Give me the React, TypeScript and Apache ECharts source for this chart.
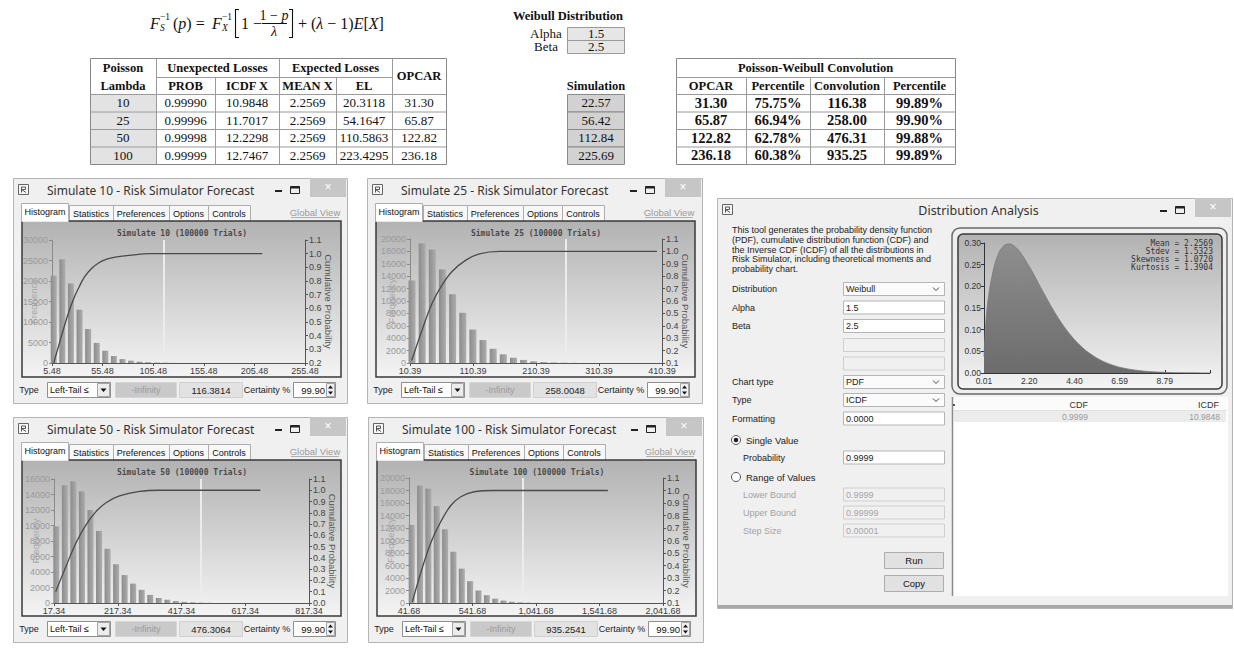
import React, { useEffect, useRef } from "react";
import * as echarts from "echarts";

// ---------------- Data ----------------
const lambdas = ["10", "25", "50", "100"];
const probabilities = ["0.99990", "0.99996", "0.99998", "0.99999"];
const icdfX = ["10.9848", "11.7017", "12.2298", "12.7467"];
const meanX = ["2.2569", "2.2569", "2.2569", "2.2569"];
const expectedLosses = ["20.3118", "54.1647", "110.5863", "223.4295"];
const opcar = ["31.30", "65.87", "122.82", "236.18"];
const simulation = ["22.57", "56.42", "112.84", "225.69"];
const opcarPercentile = ["75.75%", "66.94%", "62.78%", "60.38%"];
const convolution = ["116.38", "258.00", "476.31", "935.25"];
const convPercentile = ["99.89%", "99.90%", "99.88%", "99.89%"];
const weibullParams = ["1.5", "2.5"];

const sim10Counts = [21300, 25300, 19400, 13000, 8300, 4900, 3000, 1700, 950, 560, 330, 190, 110, 60, 35, 20, 12, 8];
const sim25Counts = [13300, 19300, 18300, 15100, 11100, 8100, 5400, 3700, 2300, 1400, 850, 500, 270, 150, 80, 40, 20, 10];
const sim50Counts = [9900, 15200, 15700, 14400, 12000, 9300, 7000, 5000, 3600, 2500, 1700, 1050, 650, 420, 250, 150, 80, 40, 20];
const sim100Counts = [12500, 18800, 18300, 15500, 11800, 8200, 5500, 3500, 2000, 1250, 700, 380, 200, 100, 50, 25];

const sim10Cdf = [[7.2, 0.2], [12.2, 0.33], [17.3, 0.46], [22.4, 0.58], [27.4, 0.68], [32.5, 0.76], [37.6, 0.83], [44.3, 0.89], [51.1, 0.93], [59.5, 0.96], [68, 0.975], [84.9, 0.99], [101.8, 1.0], [213.3, 1.0]];
const sim25Cdf = [[13.1, 0.12], [29.2, 0.36], [45.3, 0.58], [61.4, 0.73], [77.5, 0.84], [99, 0.93], [120.5, 0.98], [152.7, 1.0], [402.3, 1.0]];
const sim50Cdf = [[22.6, 0.1], [54.2, 0.32], [85.8, 0.53], [117.3, 0.69], [148.9, 0.81], [180.5, 0.89], [222.6, 0.95], [285.8, 0.99], [348.9, 1.0], [664.7, 1.0]];
const sim100Cdf = [[68, 0.11], [133.8, 0.34], [212.7, 0.58], [291.7, 0.75], [370.6, 0.88], [449.6, 0.95], [554.8, 0.99], [712.7, 1.0], [1607.5, 1.0]];

const certaintyValues = [116.3814, 258.0048, 476.3064, 935.2541];

const pdfX = [0.01, 0.1, 0.25, 0.5, 0.75, 1.0, 1.25, 1.5, 1.75, 2.0, 2.25, 2.5, 2.75, 3.0, 3.25, 3.5, 3.75, 4.0, 4.25, 4.5, 4.75, 5.0, 5.5, 6.0, 6.5, 7.0, 7.5, 8.0, 8.5, 9.0, 9.5, 10.0, 10.5, 10.98];
const pdfY = [0.038, 0.119, 0.184, 0.245, 0.279, 0.295, 0.298, 0.292, 0.28, 0.262, 0.2424, 0.221, 0.1985, 0.177, 0.1554, 0.1355, 0.1171, 0.1003, 0.0853, 0.0719, 0.0603, 0.0502, 0.0341, 0.0226, 0.0146, 0.0093, 0.0058, 0.0035, 0.0021, 0.0012, 0.0007, 0.0004, 0.0002, 0.0001];
const pdfStats = ["Mean = 2.2569", "Stdev = 1.5323", "Skewness = 1.0720", "Kurtosis = 1.3904"];

const descriptionLines = [
  "This tool generates the probability density function",
  "(PDF), cumulative distribution function (CDF) and",
  "the Inverse CDF (ICDF) of all the distributions in",
  "Risk Simulator, including theoretical moments and",
  "probability chart.",
];

// ---------------- Styling ----------------
const SANS = "'Liberation Sans', Arial, sans-serif";
const UI = "'Noto Sans', 'Open Sans', sans-serif";
const SERIF = "'Liberation Serif', 'Times New Roman', serif";
const MONO = "'DejaVu Sans Mono', monospace";

const histograms = [
  { title: "Simulate 10", counts: sim10Counts, cdf: sim10Cdf, xMin: 5.48, xMax: 255.48, xStep: 50, binWidth: 8.5, binShift: 0.2, yMax: 30000, yStep: 5000, pMin: 0.2, L: 13, T: 178, W: 334, grid: [52, 240, 305, 363], barWidth: 6 },
  { title: "Simulate 25", counts: sim25Counts, cdf: sim25Cdf, xMin: 10.39, xMax: 410.39, xStep: 100, binWidth: 16.1, binShift: 0.2, yMax: 20000, yStep: 2000, pMin: 0.1, L: 367, T: 178, W: 335, grid: [410, 239, 662, 363], barWidth: 7 },
  { title: "Simulate 50", counts: sim50Counts, cdf: sim50Cdf, xMin: 17.34, xMax: 817.34, xStep: 200, binWidth: 26.8, binShift: 0.27, yMax: 16000, yStep: 2000, pMin: 0, L: 13, T: 417, W: 334, grid: [54, 479, 309, 603], barWidth: 6 },
  { title: "Simulate 100", counts: sim100Counts, cdf: sim100Cdf, xMin: 41.68, xMax: 2041.68, xStep: 500, binWidth: 65.8, binShift: 0.32, yMax: 20000, yStep: 2000, pMin: 0.1, L: 368, T: 417, W: 335, grid: [409, 478, 663, 603], barWidth: 6 },
];

let G: any[] = [];

function R(x: number, y: number, w: number, h: number, fill: any, stroke: string | null = null, lw = 1, z = 1, r = 0) {
  G.push({ type: "rect", z, silent: true, shape: { x, y, width: w, height: h, r }, style: { fill, stroke: stroke || "none", lineWidth: stroke ? lw : 0 } });
}
function Tx(x: number, y: number, text: string, size: number, o: any = {}) {
  const font = `${o.italic ? "italic " : ""}${o.bold ? "bold " : ""}${size}px ${o.family || SANS}`;
  G.push({
    type: "text", z: o.z ?? 6, silent: true, x, y,
    style: { text, fill: o.color || "#111", font, textAlign: o.align || "left", textVerticalAlign: "middle", align: o.align || "left", verticalAlign: "middle", rich: o.rich },
  });
}
function Ln(x1: number, y1: number, x2: number, y2: number, stroke: string, lw = 1, z = 3) {
  G.push({ type: "line", z, silent: true, shape: { x1, y1, x2, y2 }, style: { stroke, lineWidth: lw } });
}
function PL(points: number[][], stroke: string, lw = 1, z = 4, fill = "none") {
  G.push({ type: "polyline", z, silent: true, shape: { points }, style: { stroke, lineWidth: lw, fill } });
}
function PG(points: number[][], fill: string, z = 4) {
  G.push({ type: "polygon", z, silent: true, shape: { points }, style: { fill } });
}
function C(cx: number, cy: number, r: number, fill: string, stroke: string | null, lw = 1, z = 4) {
  G.push({ type: "circle", z, silent: true, shape: { cx, cy, r }, style: { fill, stroke: stroke || "none", lineWidth: stroke ? lw : 0 } });
}

const panelGrad = () => new echarts.graphic.LinearGradient(0, 0, 0, 1, [
  { offset: 0, color: "#b2b2b2" },
  { offset: 1, color: "#f4f4f4" },
]);

function windowFrame(L: number, T: number, W: number, H: number, title: string, centerTitle = false) {
  R(L + 0.5, T + 0.5, W, H, "#f0f0f0", "#b4b4b4", 1, 1);
  R(L + 5.5, T + 6.5, 10, 10, "#f7f7f7", "#666", 1, 2);
  PL([[L + 8.5, T + 14.5], [L + 8.5, T + 9], [L + 12.5, T + 9], [L + 12.5, T + 11.5], [L + 8.5, T + 11.5], [L + 13, T + 14.5]], "#555", 1, 3);
  if (centerTitle) Tx(L + W / 2 + 4, T + 12, title, 12.5, { family: UI, color: "#333", align: "center" });
  else Tx(L + 34, T + 12, title, 12, { family: UI, color: "#333" });
  R(L + W - 37, T, 36, 19, "#c6c6c6", null, 0, 2);
  Tx(L + W - 19, T + 9, "×", 12, { align: "center", color: "#ffffff", family: SANS });
  R(L + W - 56.5, T + 8.5, 9, 7, "none", "#222", 1, 3);
  Ln(L + W - 56.5, T + 9.5, L + W - 47.5, T + 9.5, "#222", 2, 3);
  R(L + W - 72, T + 12, 7, 2, "#222", null, 0, 3);
}

function histWindow(h: any, idx: number) {
  const { L, T, W } = h;
  windowFrame(L, T, W, 225, `${h.title} - Risk Simulator Forecast`);
  const tabs: [string, number, number][] = [["Statistics", 56, 100], ["Preferences", 100, 156], ["Options", 156, 195], ["Controls", 195, 237]];
  tabs.forEach(([t, a, b]) => {
    R(L + a + 0.5, T + 27.5, b - a, 16, "#f8f8f8", "#adadad", 1, 2);
    Tx(L + (a + b) / 2, T + 35.5, t, 9, { align: "center", color: "#111" });
  });
  R(L + 9, T + 43, 319, 156, panelGrad(), "#3a3a3a", 1.5, 2);
  R(L + 8.5, T + 25.5, 47, 18, "#ffffff", "#adadad", 1, 3);
  Ln(L + 9.5, T + 43, L + 55, T + 43, "#ffffff", 1.5, 3);
  Tx(L + 32, T + 34, "Histogram", 9, { align: "center", color: "#111" });
  Tx(L + 302, T + 34, "Global View", 9.5, { align: "center", color: "#9a9a9a" });
  Ln(L + 278, T + 39.5, L + 326, T + 39.5, "#b0b0b0", 1, 3);
  Tx(L + 169, T + 55, `${h.title} (100000 Trials)`, 8, { align: "center", color: "#4a4a4a", family: MONO, bold: true, z: 20 });
  const cy = T + 212;
  Tx(L + 16, cy, "Type", 9, { align: "center", color: "#222" });
  R(L + 34.5, cy - 7.5, 63, 15, "#ffffff", "#8f8f8f", 1, 2);
  Tx(L + 37, cy, "Left-Tail ≤", 9, { color: "#111" });
  R(L + 84.5, cy - 6.5, 12, 13, "#ececec", "#a5a5a5", 1, 3);
  PG([[L + 87.5, cy - 1.5], [L + 93.5, cy - 1.5], [L + 90.5, cy + 2]], "#111", 4);
  R(L + 102.5, cy - 7.5, 61, 15, "#c9c9c9", "#d6d6d6", 1, 2);
  Tx(L + 133, cy, "-Infinity", 9, { align: "center", color: "#9c9c9c" });
  R(L + 166.5, cy - 7.5, 63, 15, "#e2e2e2", "#d0d0d0", 1, 2);
  Tx(L + 198, cy, certaintyValues[idx].toFixed(4), 9.5, { align: "center", color: "#222" });
  Tx(L + 254, cy, "Certainty %", 9, { align: "center", color: "#222" });
  R(L + 280.5, cy - 7.5, 42, 15, "#ffffff", "#8f8f8f", 1, 2);
  Tx(L + 312, cy, "99.90", 9.5, { align: "right", color: "#111" });
  R(L + 313.5, cy - 6.5, 8, 13, "#f0f0f0", "#a5a5a5", 1, 3);
  PG([[L + 315, cy - 1.5], [L + 320, cy - 1.5], [L + 317.5, cy - 4.5]], "#111", 4);
  PG([[L + 315, cy + 1.5], [L + 320, cy + 1.5], [L + 317.5, cy + 4.5]], "#111", 4);
}

function tablesAndFormula() {
  // ---- formula ----
  const FY = 23;
  const it = (s: number) => `italic ${s}px ${SERIF}`;
  const rg = (s: number) => `${s}px ${SERIF}`;
  Tx(150, FY, "F", 16, { italic: true, family: SERIF });
  Tx(160, FY + 5, "S", 9.5, { italic: true, family: SERIF });
  Tx(160, FY - 6, "−1", 9.5, { family: SERIF });
  Tx(173, FY, "{r|(}{i|p}{r|) =}", 16, { family: SERIF, rich: { r: { font: rg(16) }, i: { font: it(16) } } });
  Tx(212, FY, "F", 16, { italic: true, family: SERIF });
  Tx(222, FY + 5, "X", 9.5, { italic: true, family: SERIF });
  Tx(222, FY - 6, "−1", 9.5, { family: SERIF });
  PL([[239, 9.5], [235.5, 9.5], [235.5, 37.5], [239, 37.5]], "#111", 1.1, 5);
  Tx(241, FY, "1 −", 16, { family: SERIF });
  Tx(274, FY - 8, "{r|1 − }{i|p}", 14, { family: SERIF, align: "center", rich: { r: { font: rg(14) }, i: { font: it(14) } } });
  Ln(262, FY + 0.5, 287, FY + 0.5, "#111", 1, 5);
  Tx(274, FY + 8.5, "λ", 14, { italic: true, family: SERIF, align: "center" });
  PL([[289, 9.5], [292.5, 9.5], [292.5, 37.5], [289, 37.5]], "#111", 1.1, 5);
  Tx(298, FY, "{r|+ (}{i|λ}{r| − 1)}{i|E}{r|[}{i|X}{r|]}", 16, { family: SERIF, rich: { r: { font: rg(16) }, i: { font: it(16) } } });

  // ---- Weibull block ----
  Tx(568, 16, "Weibull Distribution", 12.5, { bold: true, family: SERIF, align: "center" });
  const wy = [27, 40, 53];
  ["Alpha", "Beta"].forEach((lab, i) => {
    Tx(546, (wy[i] + wy[i + 1]) / 2, lab, 13, { family: SERIF, align: "center" });
    R(567.5, wy[i] + 0.5, 57, 13, "#e6e6e6", "#9a9a9a", 1, 2);
    Tx(596, (wy[i] + wy[i + 1]) / 2, weibullParams[i], 13, { family: SERIF, align: "center" });
  });

  // ---- Left table ----
  const X = [90, 156, 215, 279, 336, 392, 446];
  const Y = [58, 77, 94, 111.5, 129, 146.5, 164];
  const bc = "#9a9a9a";
  for (let r = 0; r < 4; r++) R(X[0], Y[r + 2], X[1] - X[0], Y[r + 3] - Y[r + 2], "#e3e3e3", null, 0, 1);
  R(X[0] + 0.5, Y[0] + 0.5, X[6] - X[0], Y[6] - Y[0], "none", "#888", 1, 3);
  Ln(X[1], Y[1] + 0.5, X[5], Y[1] + 0.5, bc);
  for (let r = 2; r < 6; r++) Ln(X[0], Y[r] + 0.5, X[6], Y[r] + 0.5, bc);
  [1, 3, 5].forEach((c) => Ln(X[c] + 0.5, Y[0], X[c] + 0.5, Y[6], bc));
  [2, 4].forEach((c) => Ln(X[c] + 0.5, Y[1], X[c] + 0.5, Y[6], bc));
  const cx = (a: number, b: number) => (X[a] + X[b]) / 2;
  const cy = (a: number, b: number) => (Y[a] + Y[b]) / 2;
  const hb = { bold: true, family: SERIF, align: "center" };
  Tx(cx(0, 1), cy(0, 1), "Poisson", 12.5, hb);
  Tx(cx(0, 1), cy(1, 2), "Lambda", 12.5, hb);
  Tx(cx(1, 3), cy(0, 1), "Unexpected Losses", 12.5, hb);
  Tx(cx(3, 5), cy(0, 1), "Expected Losses", 12.5, hb);
  Tx(cx(5, 6), cy(0, 2), "OPCAR", 12.5, hb);
  ["PROB", "ICDF X", "MEAN X", "EL"].forEach((t, i) => Tx(cx(i + 1, i + 2), cy(1, 2), t, 12.5, hb));
  const cols = [lambdas, probabilities, icdfX, meanX, expectedLosses, opcar];
  for (let r = 0; r < 4; r++) {
    cols.forEach((col, c) => Tx(cx(c, c + 1), cy(r + 2, r + 3), col[r], 13, { family: SERIF, align: "center" }));
  }

  // ---- Simulation column ----
  Tx(596, cy(1, 2), "Simulation", 12.5, hb);
  for (let r = 0; r < 4; r++) {
    R(567.5, Y[r + 2] + 0.5, 57, Y[r + 3] - Y[r + 2], "#d2d2d2", "#8a8a8a", 1, 2);
    Tx(596, cy(r + 2, r + 3), simulation[r], 13, { family: SERIF, align: "center" });
  }

  // ---- Right table ----
  const RX = [676, 746, 810, 884, 955];
  R(RX[0] + 0.5, Y[0] + 0.5, RX[4] - RX[0], Y[6] - Y[0], "none", "#888", 1, 3);
  for (let r = 1; r < 6; r++) Ln(RX[0], Y[r] + 0.5, RX[4], Y[r] + 0.5, bc);
  [1, 2, 3].forEach((c) => Ln(RX[c] + 0.5, Y[1], RX[c] + 0.5, Y[6], bc));
  Tx((RX[0] + RX[4]) / 2, cy(0, 1), "Poisson-Weibull Convolution", 12.5, hb);
  ["OPCAR", "Percentile", "Convolution", "Percentile"].forEach((t, i) => Tx((RX[i] + RX[i + 1]) / 2, cy(1, 2), t, 12.5, hb));
  const rcols = [opcar, opcarPercentile, convolution, convPercentile];
  for (let r = 0; r < 4; r++) {
    rcols.forEach((col, c) => Tx((RX[c] + RX[c + 1]) / 2, cy(r + 2, r + 3), col[r], 14.5, { bold: true, family: SERIF, align: "center" }));
  }
}

function distributionWindow() {
  const L = 717, T = 198, W = 515, H = 410;
  windowFrame(L, T, W, H, "Distribution Analysis", true);
  Ln(L + 1, T + H - 1.5, L + W, T + H - 1.5, "#a8a8a8", 3, 3);
  descriptionLines.forEach((s, i) => Tx(732, 230 + i * 9.8, s, 9, { color: "#222" }));
  const box = (y: number, val: string, kind: string) => {
    const fill = kind === "disabled" || kind === "blank" ? "#f0f0f0" : kind === "dropdown" ? "#fbfbfb" : "#ffffff";
    const stroke = kind === "disabled" || kind === "blank" ? "#cfcfcf" : "#b5b5b5";
    R(843.5, y - 6.5, 101, 13, fill, stroke, 1, 2);
    if (val) Tx(846, y, val, 9, { color: kind === "disabled" ? "#a5a5a5" : "#222" });
    if (kind === "dropdown") PL([[933, y - 1.5], [936, y + 1.5], [939, y - 1.5]], "#444", 1, 4);
  };
  const rows: [string, number, string, string][] = [
    ["Distribution", 289, "Weibull", "dropdown"],
    ["Alpha", 307.5, weibullParams[0], "input"],
    ["Beta", 326, weibullParams[1], "input"],
    ["", 345, "", "blank"],
    ["", 363.5, "", "blank"],
    ["Chart type", 382, "PDF", "dropdown"],
    ["Type", 400, "ICDF", "dropdown"],
    ["Formatting", 418.5, "0.0000", "input"],
  ];
  rows.forEach(([lab, y, val, kind]) => {
    if (lab) Tx(732, y, lab, 9, { color: "#222" });
    box(y, val, kind);
  });
  C(736, 440, 4.5, "#ffffff", "#555", 1, 4);
  C(736, 440, 2.3, "#222", null, 0, 5);
  Tx(746, 440, "Single Value", 9.5, { color: "#222" });
  Tx(743, 457.5, "Probability", 9, { color: "#222" });
  box(457.5, "0.9999", "input");
  C(736, 477, 4.5, "#ffffff", "#555", 1, 4);
  Tx(746, 477, "Range of Values", 9.5, { color: "#222" });
  ([["Lower Bound", 494.5, "0.9999"], ["Upper Bound", 512.5, "0.99999"], ["Step Size", 530.5, "0.00001"]] as [string, number, string][]).forEach(([lab, y, v]) => {
    Tx(743, y, lab, 9, { color: "#a3a3a3" });
    box(y, v, "disabled");
  });
  R(884.5, 552.5, 59, 16, "#e1e1e1", "#adadad", 1, 2);
  Tx(914, 560.5, "Run", 9.5, { align: "center", color: "#111" });
  R(884.5, 575.5, 59, 16, "#e1e1e1", "#adadad", 1, 2);
  Tx(914, 583.5, "Copy", 9.5, { align: "center", color: "#111" });
  R(952, 228, 275, 166, "#eeeeee", "#6a6a6a", 1.5, 2, 8);
  R(958, 234, 264, 155, panelGrad(), "#3a3a3a", 1.5, 3, 5);
  pdfStats.forEach((s, i) => Tx(1213, 243.5 + i * 8, s, 8, { align: "right", family: MONO, color: "#333", z: 20 }));
  R(952, 397, 276, 199, "#ffffff", null, 0, 2);
  Ln(952.5, 397, 952.5, 596, "#8a8a8a", 1.5, 3);
  R(954, 398, 273, 12, "#fbfbfb", null, 0, 3);
  Ln(954, 410.5, 1227, 410.5, "#e2e2e2", 1, 4);
  R(954, 411, 272, 11, "#ececec", null, 0, 3);
  Tx(1088, 404.5, "CDF", 9, { align: "right", color: "#333" });
  Tx(1219, 404.5, "ICDF", 9, { align: "right", color: "#333" });
  Tx(1088, 416.5, "0.9999", 8.5, { align: "right", color: "#9a9a9a" });
  Tx(1220, 416.5, "10.9848", 8.5, { align: "right", color: "#9a9a9a" });
  Ln(954, 404, 954, 406, "#555", 2, 4);
}

function buildOption() {
  G = [];
  tablesAndFormula();
  histograms.forEach((h, i) => histWindow(h, i));
  distributionWindow();

  const grids: any[] = [];
  const xAxes: any[] = [];
  const yAxes: any[] = [];
  const series: any[] = [];
  const fmtX = (v: number) => v.toLocaleString("en-US", { minimumFractionDigits: 2, maximumFractionDigits: 2 });

  histograms.forEach((h, i) => {
    const [gl, gt, gr, gb] = h.grid;
    grids.push({ left: gl, top: gt, width: gr - gl, height: gb - gt, containLabel: false });
    xAxes.push({
      type: "value", gridIndex: i, min: h.xMin, max: h.xMax, interval: h.xStep, z: 10,
      axisLine: { show: true, lineStyle: { color: "#555", width: 1 } },
      axisTick: { show: true, length: 3, lineStyle: { color: "#555" } },
      splitLine: { show: false },
      axisLabel: { formatter: fmtX, fontSize: 9, fontFamily: SANS, color: "#3a3a3a", margin: 3 },
    });
    yAxes.push({
      type: "value", gridIndex: i, position: "left", min: 0, max: h.yMax, interval: h.yStep, z: 10,
      axisLine: { show: true, lineStyle: { color: "#8a8a8a" } },
      axisTick: { show: true, length: 3, lineStyle: { color: "#8a8a8a" } },
      splitLine: { show: false },
      axisLabel: { formatter: (v: number) => String(Math.round(v)), fontSize: 9, fontFamily: SANS, color: "#9a9a9a", margin: 4 },
      name: "Frequency", nameLocation: "middle", nameGap: 14, nameMoveOverlap: false,
      nameTextStyle: { fontSize: 9.5, fontFamily: SANS, color: "#a8a8a8" },
    });
    yAxes.push({
      type: "value", gridIndex: i, position: "right", min: h.pMin, max: 1.1, interval: 0.1, z: 10,
      axisLine: { show: true, lineStyle: { color: "#555" } },
      axisTick: { show: true, length: 3, lineStyle: { color: "#555" } },
      splitLine: { show: false },
      axisLabel: { formatter: (v: number) => v.toFixed(1), fontSize: 9, fontFamily: SANS, color: "#444", margin: 4 },
      name: "Cumulative Probability", nameLocation: "middle", nameRotate: -90, nameGap: 18, nameMoveOverlap: false,
      nameTextStyle: { fontSize: 9.5, fontFamily: SANS, color: "#555" },
    });
    series.push({
      type: "bar", xAxisIndex: i, yAxisIndex: 2 * i, z: 11, barWidth: h.barWidth,
      data: h.counts.map((c: number, k: number) => [h.xMin + (k + h.binShift) * h.binWidth, c]),
      itemStyle: {
        color: new echarts.graphic.LinearGradient(0, 0, 1, 0, [
          { offset: 0, color: "#8c8c8c" },
          { offset: 1, color: "#adadad" },
        ]),
      },
    });
    series.push({
      type: "line", xAxisIndex: i, yAxisIndex: 2 * i + 1, z: 12, smooth: 0.35, showSymbol: false, symbol: "none",
      data: h.cdf, lineStyle: { color: "#4a4a4a", width: 1.3 },
      markLine: {
        silent: true, symbol: "none", label: { show: false },
        lineStyle: { color: "#ececec", width: 2, type: "solid" },
        data: [{ xAxis: certaintyValues[i] }],
      },
    });
  });

  grids.push({ left: 984, top: 243, width: 226, height: 130 });
  xAxes.push({
    type: "value", gridIndex: 4, min: 0.01, max: 10.9848, interval: 2.1949, z: 10,
    axisLine: { show: true, lineStyle: { color: "#333" } },
    axisTick: { show: true, length: 3, inside: true, lineStyle: { color: "#333" } },
    splitLine: { show: false },
    axisLabel: { formatter: (v: number) => (v > 10 ? "" : v.toFixed(2)), fontSize: 8.5, fontFamily: SANS, color: "#333", margin: 3, showMaxLabel: false },
  });
  yAxes.push({
    type: "value", gridIndex: 4, min: 0, max: 0.3, interval: 0.05, z: 10,
    axisLine: { show: true, lineStyle: { color: "#333" } },
    axisTick: { show: true, length: 3, lineStyle: { color: "#333" } },
    splitLine: { show: false },
    axisLabel: { formatter: (v: number) => v.toFixed(2), fontSize: 8.5, fontFamily: SANS, color: "#333", margin: 3 },
  });
  series.push({
    type: "line", xAxisIndex: 4, yAxisIndex: 8, z: 11, smooth: 0.3, showSymbol: false, symbol: "none",
    data: pdfX.map((x, k) => [x, pdfY[k]]),
    lineStyle: { color: "#7a7a7a", width: 0.8 },
    areaStyle: {
      opacity: 1,
      color: new echarts.graphic.LinearGradient(0, 0, 0, 1, [
        { offset: 0, color: "#8e8e8e" },
        { offset: 1, color: "#6c6c6c" },
      ]),
    },
  });

  return {
    animation: false,
    backgroundColor: "#ffffff",
    grid: grids,
    xAxis: xAxes,
    yAxis: yAxes,
    series,
    graphic: { elements: G },
  };
}

export default function App() {
  const ref = useRef<HTMLDivElement>(null);
  useEffect(() => {
    if (!ref.current) return;
    const chart = echarts.init(ref.current, undefined, { renderer: "svg" });
    chart.setOption(buildOption() as any);
    return () => chart.dispose();
  }, []);
  return <div ref={ref} style={{ position: "fixed", left: 0, top: 0, width: 1234, height: 648, background: "#ffffff" }} />;
}
